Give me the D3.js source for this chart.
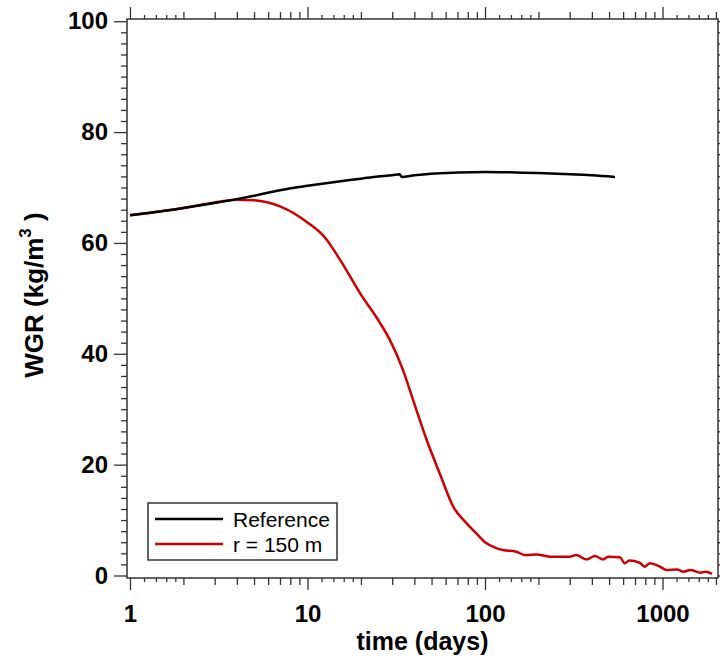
<!DOCTYPE html>
<html>
<head>
<meta charset="utf-8">
<script src="https://cdn.jsdelivr.net/npm/d3@7"></script>
<style>
  body { margin: 0; background: #fff; }
  svg text { font-family: "Liberation Sans", Arial, sans-serif; }
</style>
</head>
<body>
<div id="chart"></div>
<script>
// reference run
const refTime = [1, 1.5, 2, 3, 4, 5, 7, 10, 15, 20, 25, 30, 33, 34, 40, 50, 70, 100, 150, 200, 300, 400, 540];
const refWGR = [65.0, 65.7, 66.3, 67.2, 67.9, 68.5, 69.5, 70.3, 71.1, 71.6, 72.0, 72.2, 72.4, 71.9, 72.2, 72.5, 72.7, 72.8, 72.7, 72.6, 72.4, 72.2, 71.9];

// r = 150 m run
const r150Time = [1, 2, 3, 4, 5, 7, 10, 12.6, 15.3, 19.8, 25.7, 29.1, 34.5, 39.4, 47, 55.6, 66.3, 78.8, 90, 100, 115, 126, 150, 168, 195, 232, 300, 326, 373, 416, 463, 495, 575, 613, 650, 743, 795, 849, 966, 1055, 1205, 1317, 1438, 1640, 1755, 1900];
const r150WGR = [65.0, 66.3, 67.3, 67.8, 67.7, 66.6, 63.7, 60.9, 56.9, 50.9, 45.5, 42.5, 37.1, 31.6, 24.4, 18.4, 12.4, 9.4, 7.5, 6.0, 5.0, 4.6, 4.3, 3.7, 3.8, 3.4, 3.4, 3.7, 2.9, 3.5, 2.9, 3.4, 3.3, 2.2, 2.7, 2.3, 1.6, 2.2, 1.6, 1.0, 1.1, 0.7, 1.0, 0.5, 0.7, 0.3];

const xTickLabels = [1, 10, 100, 1000];
const yTickLabels = [0, 20, 40, 60, 80, 100];
const seriesNames = ["Reference", "r = 150 m"];

const width = 720, height = 662;
const plotLeft = 127, plotRight = 718, plotTop = 19, plotBottom = 578;

const svg = d3.select("#chart").append("svg")
    .attr("width", width)
    .attr("height", height);

const x = d3.scaleLog().domain([0.962, 2054]).range([plotLeft, plotRight]);
const y = d3.scaleLinear().domain([-0.45, 100.4]).range([plotBottom, plotTop]);

// tick sets for the log axis
let xMid = [], xSmall = [];
[1, 10, 100, 1000].forEach(d => {
    [1.2, 1.4, 1.6, 1.8].forEach(m => { if (d * m < 2054) xSmall.push(d * m); });
    [2, 3, 4, 5, 6, 7, 8, 9].forEach(m => { if (d * m < 2054) xMid.push(d * m); });
});
const yMinor = d3.range(0, 101, 2).filter(v => v % 20 !== 0);

const axisColor = "#333";

function styleAxis(g) {
    g.select(".domain").remove();
    g.selectAll("line").attr("stroke", axisColor).attr("stroke-width", 1.3);
}

// bottom
svg.append("g").attr("transform", "translate(0," + plotBottom + ")")
    .call(d3.axisBottom(x).tickValues(xSmall).tickSize(4).tickFormat("")).call(styleAxis);
svg.append("g").attr("transform", "translate(0," + plotBottom + ")")
    .call(d3.axisBottom(x).tickValues(xMid).tickSize(7).tickFormat("")).call(styleAxis);
const xb = svg.append("g").attr("transform", "translate(0," + plotBottom + ")")
    .call(d3.axisBottom(x).tickValues(xTickLabels).tickSize(12).tickPadding(15).tickFormat(d3.format("d")))
    .call(styleAxis);
xb.selectAll("text").attr("font-size", 24).attr("font-weight", "bold").attr("fill", "#000");

// top
svg.append("g").attr("transform", "translate(0," + plotTop + ")")
    .call(d3.axisTop(x).tickValues(xSmall).tickSize(4).tickFormat("")).call(styleAxis);
svg.append("g").attr("transform", "translate(0," + plotTop + ")")
    .call(d3.axisTop(x).tickValues(xMid).tickSize(7).tickFormat("")).call(styleAxis);
svg.append("g").attr("transform", "translate(0," + plotTop + ")")
    .call(d3.axisTop(x).tickValues(xTickLabels).tickSize(12).tickFormat("")).call(styleAxis);

// left
svg.append("g").attr("transform", "translate(" + plotLeft + ",0)")
    .call(d3.axisLeft(y).tickValues(yMinor).tickSize(6).tickFormat("")).call(styleAxis);
const yl = svg.append("g").attr("transform", "translate(" + plotLeft + ",0)")
    .call(d3.axisLeft(y).tickValues(yTickLabels).tickSize(13).tickPadding(6).tickFormat(d3.format("d")))
    .call(styleAxis);
yl.selectAll("text").attr("font-size", 24).attr("font-weight", "bold").attr("fill", "#000");

// right
svg.append("g").attr("transform", "translate(" + plotRight + ",0)")
    .call(d3.axisRight(y).tickValues(yMinor).tickSize(6).tickFormat("")).call(styleAxis);
svg.append("g").attr("transform", "translate(" + plotRight + ",0)")
    .call(d3.axisRight(y).tickValues(yTickLabels).tickSize(12).tickFormat("")).call(styleAxis);

// frame
svg.append("rect")
    .attr("x", plotLeft).attr("y", plotTop)
    .attr("width", plotRight - plotLeft).attr("height", plotBottom - plotTop)
    .attr("fill", "none").attr("stroke", axisColor).attr("stroke-width", 1.5);

const line = d3.line()
    .x(d => x(d[0]))
    .y(d => y(d[1]))
    .curve(d3.curveMonotoneX);

const refData = refTime.map((t, i) => [t, refWGR[i]]);
const r150Data = r150Time.map((t, i) => [t, r150WGR[i]]);

svg.append("path").datum(r150Data)
    .attr("d", line).attr("fill", "none")
    .attr("stroke", "#cc0000").attr("stroke-width", 2.5);

svg.append("path").datum(refData)
    .attr("d", line).attr("fill", "none")
    .attr("stroke", "#000").attr("stroke-width", 2.5);

// axis titles
svg.append("text")
    .attr("x", (plotLeft + plotRight) / 2).attr("y", 650)
    .attr("text-anchor", "middle")
    .attr("font-size", 25).attr("font-weight", "bold")
    .text("time (days)");

const yt = svg.append("text")
    .attr("transform", "translate(43," + 295 + ") rotate(-90)")
    .attr("text-anchor", "middle")
    .attr("font-size", 26).attr("font-weight", "bold");
yt.append("tspan").text("WGR (kg/m");
yt.append("tspan").attr("dy", -12).attr("font-size", 17).text("3");
yt.append("tspan").attr("dy", 12).text(" )");

// legend
const legend = svg.append("g");
legend.append("rect")
    .attr("x", 148).attr("y", 503).attr("width", 189).attr("height", 57)
    .attr("fill", "#fff").attr("stroke", axisColor).attr("stroke-width", 1.5);
const legColors = ["#000", "#cc0000"];
seriesNames.forEach((name, i) => {
    const ly = 519 + i * 25;
    legend.append("line")
        .attr("x1", 155).attr("x2", 223).attr("y1", ly).attr("y2", ly)
        .attr("stroke", legColors[i]).attr("stroke-width", 2.5);
    legend.append("text")
        .attr("x", 233).attr("y", ly + 8)
        .attr("font-size", 21)
        .text(name);
});
</script>
</body>
</html>
